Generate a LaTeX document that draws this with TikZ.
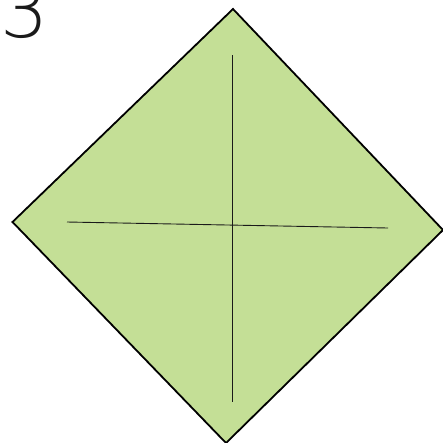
\documentclass[tikz,border=0pt]{standalone}
\usepackage{fontspec}
\setmainfont{DejaVu Sans}
\newfontfamily\thinfont{DejaVu Sans ExtraLight}
\usepackage{xcolor}
\usepackage{tikz}
\definecolor{leaf}{HTML}{C4DF96}
\definecolor{ink}{HTML}{1A1A1A}

\begin{document}
\begin{tikzpicture}[x=1pt,y=-1pt,font=\thinfont\fontsize{76}{76}\selectfont]
  \useasboundingbox (0,0) rectangle (443,442);
  % corners of the folded square
  \coordinate (top) at (233,9);
  \coordinate (rgt) at (443,230);
  \coordinate (bot) at (226,443);
  \coordinate (lft) at (12.5,222);
  \filldraw[fill=leaf,draw=black,line width=1.8pt,line join=miter] (top) -- (rgt) -- (bot) -- (lft) -- cycle;
  % crease lines
  \coordinate (vtop) at (232,55);
  \coordinate (vbot) at (232,402);
  \coordinate (hlft) at (67,222);
  \coordinate (hrgt) at (388,228);
  \draw[ink,line width=0.9pt] (vtop) -- (vbot);
  \draw[ink,line width=0.9pt] (hlft) -- (hrgt);
  \node[anchor=base west,inner sep=0pt,text=ink] (step) at (0,37) {3};
\end{tikzpicture}
\end{document}
